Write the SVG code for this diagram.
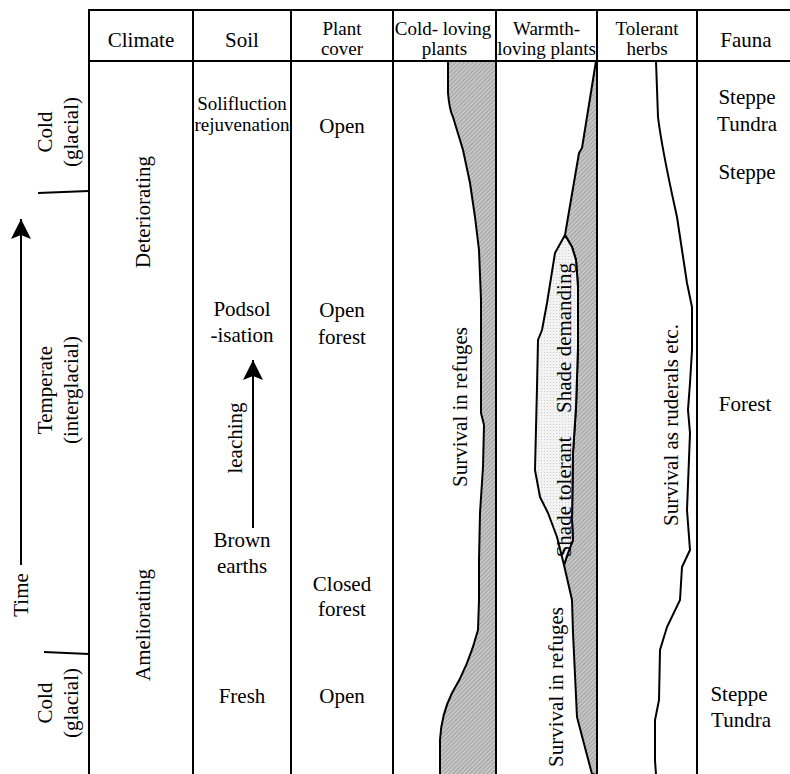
<svg xmlns="http://www.w3.org/2000/svg" width="790" height="774" viewBox="0 0 790 774">
<style>
text{font-family:"Liberation Serif","Times New Roman",serif;font-size:21px;fill:#000;text-anchor:middle}
.h2{font-size:19px}
.sm{font-size:19px}
.ln{stroke:#000;stroke-width:2;fill:none}
.bd{stroke:#000;stroke-width:2;stroke-linejoin:round}
</style>
<defs>
<pattern id="hatch" width="3" height="3" patternUnits="userSpaceOnUse" patternTransform="rotate(45)">
<rect width="3" height="3" fill="#c6c6c6"/><rect width="1" height="3" fill="#a2a2a2"/>
</pattern>
<pattern id="dots" width="3" height="3" patternUnits="userSpaceOnUse">
<rect width="3" height="3" fill="#f3f3f3"/><rect x="1" y="1" width="1" height="1" fill="#cfcfcf"/>
</pattern>
<marker id="ah" viewBox="0 0 20 20" refX="20" refY="10" markerWidth="20" markerHeight="20" markerUnits="userSpaceOnUse" orient="auto">
<path d="M0,0 L20,10 L0,20 L4,10 Z" fill="#000"/>
</marker>
</defs>

<g id="table">
<line class="ln" x1="88" y1="10" x2="790" y2="10"/>
<line class="ln" x1="88" y1="61" x2="790" y2="61"/>
<line class="ln" x1="89" y1="9" x2="89" y2="774"/>
<line class="ln" x1="193" y1="10" x2="193" y2="774"/>
<line class="ln" x1="291" y1="10" x2="291" y2="774"/>
<line class="ln" x1="393" y1="10" x2="393" y2="774"/>
<line class="ln" x1="496" y1="10" x2="496" y2="774"/>
<line class="ln" x1="597" y1="10" x2="597" y2="774"/>
<line class="ln" x1="697" y1="10" x2="697" y2="774"/>
</g>

<g id="headers">
<text x="141" y="47">Climate</text>
<text x="242" y="47">Soil</text>
<text class="h2" x="342" y="35">Plant</text>
<text class="h2" x="342" y="55">cover</text>
<text class="h2" x="443" y="35">Cold- loving</text>
<text class="h2" x="444.5" y="55">plants</text>
<text class="h2" x="546.5" y="35">Warmth-</text>
<text class="h2" x="546.5" y="55">loving plants</text>
<text class="h2" x="647" y="35">Tolerant</text>
<text class="h2" x="647" y="55">herbs</text>
<text x="746" y="47">Fauna</text>
</g>

<g id="time-axis">
<line class="ln" x1="38" y1="193" x2="89" y2="191"/>
<line class="ln" x1="44" y1="652" x2="89" y2="654"/>
<text transform="translate(52,132) rotate(-90)">Cold</text>
<text transform="translate(78,132) rotate(-90)">(glacial)</text>
<text transform="translate(52,390) rotate(-90)">Temperate</text>
<text transform="translate(78,390) rotate(-90)">(interglacial)</text>
<text transform="translate(52,703) rotate(-90)">Cold</text>
<text transform="translate(78,703) rotate(-90)">(glacial)</text>
<text transform="translate(28,595) rotate(-90)">Time</text>
</g>

<g id="climate">
<text transform="translate(150,212) rotate(-90)">Deteriorating</text>
<text transform="translate(150,625) rotate(-90)">Ameliorating</text>
</g>

<g id="soil">
<text class="sm" x="242" y="110">Solifluction</text>
<text class="sm" x="242" y="131">rejuvenation</text>
<text x="242" y="316">Podsol</text>
<text x="242" y="342">-isation</text>
<text transform="translate(242,438) rotate(-90)">leaching</text>
<text x="242" y="547">Brown</text>
<text x="242" y="573">earths</text>
<text x="242" y="703">Fresh</text>
</g>

<g id="plant-cover">
<text x="342" y="133">Open</text>
<text x="342" y="317">Open</text>
<text x="342" y="344">forest</text>
<text x="342" y="591">Closed</text>
<text x="342" y="616">forest</text>
<text x="342" y="703">Open</text>
</g>

<g id="cold-loving">
<path class="bd" fill="url(#hatch)" d="M448,61 L448,93 C449,105 450,111 453,117 L463,150 L470,183 L475,217 L479,250 L481,300 L481,413 L484,425 L483,467 L480,513 L479,560 L479,600 L478,630 C470,660 460,680 452,693 C446,705 441,720 440,740 L440,775 L496,775 L496,61 Z"/>
<text transform="translate(467,407) rotate(-90)">Survival in refuges</text>
</g>

<g id="warmth-loving">
<path class="bd" fill="url(#hatch)" d="M596,61 L582,148 L579,153 L565,235 L572,247 L576,260 L578,287 L578,347 L576,407 L573,453 L572,520 L573,540 L568,553 L564,565 L572,600 L573,633 L577,717 L583,740 L592,774 L597,775 L597,61 Z"/>
<path class="bd" fill="url(#dots)" d="M565,235 L555,253 L547,303 L542,330 L538,340 L537,387 L535,470 L540,497 L548,513 L557,537 L562,557 L564,565 L568,553 L573,540 L572,520 L573,453 L576,407 L578,347 L578,287 L576,260 L572,247 Z"/>
<text transform="translate(571,338) rotate(-90)">Shade demanding</text>
<text transform="translate(571,497) rotate(-90)">Shade tolerant</text>
<text transform="translate(563,687) rotate(-90)">Survival in refuges</text>
</g>

<g id="tolerant-herbs">
<path class="ln" d="M656,61 L658,117 C662,150 670,185 677,217 L687,283 L692,307 L692,350 L690,383 L688,410 L690,433 L687,510 L690,550 L682,567 L680,600 L667,627 L660,650 L659,700 L655,720 L655,760 L656,775"/>
<text transform="translate(678,425) rotate(-90)">Survival as ruderals etc.</text>
</g>

<g id="fauna">
<text x="747" y="104">Steppe</text>
<text x="747" y="131">Tundra</text>
<text x="747" y="179">Steppe</text>
<text x="745" y="411">Forest</text>
<text x="739" y="701">Steppe</text>
<text x="741" y="727">Tundra</text>
</g>

<g id="connectors">
<line class="ln" x1="21" y1="565" x2="21" y2="219" marker-end="url(#ah)"/>
<line class="ln" x1="253" y1="528" x2="253" y2="360" marker-end="url(#ah)"/>
</g>
</svg>
